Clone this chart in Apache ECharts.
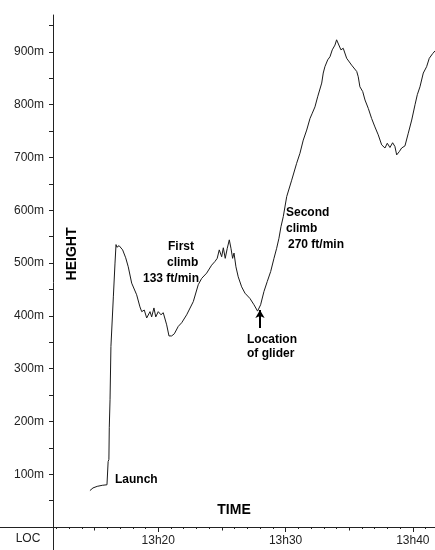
<!DOCTYPE html>
<html><head><meta charset="utf-8">
<script src="https://cdn.jsdelivr.net/npm/echarts@6/dist/echarts.min.js"></script>
<style>html,body{margin:0;padding:0;background:#fff}#c{width:435px;height:550px}</style>
</head><body><div id="c"></div>
<script>
// time in minutes after 13h00
const times = [14.63,14.87,15.20,15.60,15.97,16.04,16.06,16.12,16.15,16.21,16.28,16.47,16.60,16.68,16.75,16.86,16.92,16.99,17.20,17.44,17.64,17.91,18.30,18.56,18.70,18.90,19.09,19.35,19.48,19.66,19.80,20.00,20.21,20.39,20.66,20.84,21.05,21.26,21.57,21.84,22.23,22.75,23.14,23.41,23.80,24.19,24.45,24.63,24.79,24.98,25.11,25.26,25.42,25.58,25.71,25.84,25.95,26.10,26.28,26.55,26.81,27.20,27.52,27.80,28.04,28.30,28.56,28.83,29.09,29.30,29.48,29.64,29.82,30.09,30.48,30.87,31.13,31.39,31.66,31.92,32.10,32.31,32.52,32.84,32.96,33.09,33.31,33.49,33.67,33.88,34.01,34.16,34.35,34.53,34.80,35.19,35.59,35.71,35.84,36.06,36.24,36.50,36.76,37.02,37.28,37.55,37.81,37.99,38.20,38.41,38.59,38.73,38.93,39.12,39.38,39.64,39.91,40.17,40.35,40.56,40.82,41.08,41.29,41.56,41.74];
// height in metres
const heights = [69,74,77,79,80,82,124,128,188,241,342,436,500,535,530,529,533,532,525,510,493,462,440,417,408,411,396,408,398,415,398,408,402,406,383,362,362,366,380,387,402,427,459,471,481,496,503,509,525,512,529,509,528,544,528,509,519,493,474,455,443,433,421,409,421,446,465,484,509,528,547,569,588,626,657,689,708,733,752,774,784,796,815,841,860,872,885,891,904,913,923,926,904,907,888,875,863,853,834,825,809,793,774,758,743,724,718,727,719,728,721,705,711,718,722,746,771,800,819,834,860,872,888,897,902];

const yTickValues = [50,100,150,200,250,300,350,400,450,500,550,600,650,700,750,800,850,900,950];
const yLabelValues = [100,200,300,400,500,600,700,800,900];
const xMinuteTicks = [12,13,14,15,16,17,18,19,20,21,22,23,24,25,26,27,28,29,30,31,32,33,34,35,36,37,38,39,40,41];
const xFiveTicks = [15,25,35];
const xTenTicks = [20,30,40];
const xLabelValues = [20,30,40];

const FONT = '"Liberation Sans", Arial, sans-serif';
const AX = '#222';

const chart = echarts.init(document.getElementById('c'), null, {renderer: 'canvas'});

const xBase = {
  type: 'value', min: 7.565, max: 41.74, position: 'bottom', offset: -23,
  axisLine: {show: false, onZero: false},
  splitLine: {show: false},
  axisLabel: {show: false},
  axisTick: {show: false}
};

const boldText = (txt, x, y, size, align) => ({
  type: 'text', x: x, y: y, silent: true,
  style: {text: txt, font: 'bold ' + (size || 12) + 'px ' + FONT, fill: '#000',
          align: align || 'left', verticalAlign: 'middle'}
});

const option = {
  animation: false,
  backgroundColor: '#fff',
  grid: {left: 0, right: 0, top: 15, bottom: 0, containLabel: false, outerBoundsMode: 'none'},
  xAxis: [
    Object.assign({}, xBase, {
      axisLine: {show: true, onZero: false, lineStyle: {color: AX, width: 1}},
      axisTick: {show: true, length: 2, customValues: xMinuteTicks, lineStyle: {color: AX}},
      axisLabel: {show: true, customValues: xLabelValues, formatter: v => '13h' + v,
                  color: AX, fontFamily: FONT, fontSize: 12, margin: 8}
    }),
    Object.assign({}, xBase, {
      axisTick: {show: true, length: 3.5, customValues: xFiveTicks, lineStyle: {color: AX}}
    }),
    Object.assign({}, xBase, {
      axisTick: {show: true, length: 5, customValues: xTenTicks, lineStyle: {color: AX}}
    })
  ],
  yAxis: {
    type: 'value', min: -43.58, max: 970, position: 'left', offset: -53,
    axisLine: {show: true, onZero: false, lineStyle: {color: AX, width: 1}},
    axisTick: {show: true, length: 4, customValues: yTickValues, lineStyle: {color: AX}},
    axisLabel: {show: true, customValues: yLabelValues, formatter: v => v + 'm',
                color: AX, fontFamily: FONT, fontSize: 12, margin: 9},
    splitLine: {show: false}
  },
  series: [{
    type: 'line',
    xAxisIndex: 0, yAxisIndex: 0,
    data: times.map((t, i) => [t, heights[i]]),
    showSymbol: false, symbol: 'none',
    lineStyle: {color: '#1a1a1a', width: 1},
    markLine: {
      silent: true, symbol: ['none', 'arrow'], symbolSize: [7, 8],
      label: {show: false},
      lineStyle: {color: '#000', width: 2, type: 'solid'},
      data: [[{coord: [27.99, 377]}, {coord: [27.99, 411]}]]
    }
  }],
  graphic: [
    {type: 'text', x: 72, y: 254, rotation: Math.PI / 2, silent: true,
     style: {text: 'HEIGHT', font: 'bold 14px ' + FONT, fill: '#000', align: 'center', verticalAlign: 'middle'}},
    boldText('TIME', 234, 510, 14, 'center'),
    {type: 'text', x: 28, y: 539, silent: true,
     style: {text: 'LOC', font: '12px ' + FONT, fill: AX, align: 'center', verticalAlign: 'middle'}},
    boldText('Launch', 115, 480),
    boldText('First', 168, 247),
    boldText('climb', 167, 263),
    boldText('133 ft/min', 143, 279),
    boldText('Second', 286, 213),
    boldText('climb', 286, 229),
    boldText('270 ft/min', 288, 245),
    boldText('Location', 247, 340),
    boldText('of glider', 247, 354)
  ]
};
chart.setOption(option);
</script>
</body></html>
